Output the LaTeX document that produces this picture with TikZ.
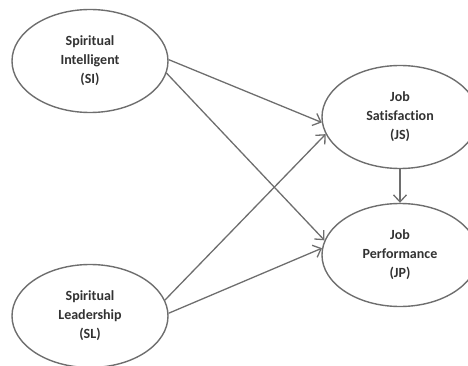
\documentclass[tikz,border=0pt]{standalone}
\usepackage{fontspec}
\setmainfont{Carlito}[Ligatures=NoCommon]
\usetikzlibrary{shapes.geometric,arrows.meta}
\definecolor{linegray}{RGB}{110,110,110}
\definecolor{textgray}{RGB}{50,50,50}
\tikzset{
  construct/.style={draw=linegray, line width=1.4pt, ellipse, minimum width=156pt,
    minimum height=103pt, inner sep=0, align=center, text=textgray,
    font=\fontsize{14}{19}\selectfont\bfseries},
  path/.style={draw=linegray, line width=1.3pt, -{Straight Barb[length=7pt,width=13pt]}}
}
\begin{document}
\begin{tikzpicture}[x=1pt, y=-1pt]
      \useasboundingbox (0,0) rectangle (468,366);
      \begin{scope}
        \clip (0,0) rectangle (468,366);
        \node [construct] (si) at (90, 61) {Spiritual\\Intelligent\\(SI)};
        \node [construct] (sl) at (90, 316) {Spiritual\\Leadership\\(SL)};
        \node [construct] (js) at (400, 117) {Job\\Satisfaction\\(JS)};
        \node [construct] (jp) at (400, 255) {Job\\Performance\\(JP)};
      \end{scope}
      \draw [path] (si.1) -- (js.184);
      \draw [path] (si.-9) -- (jp.169);
      \draw [path] (sl.12) -- (js.193);
      \draw [path] (sl.2) -- (jp.175);
      \draw [path] (js.south) -- (jp.north);
    \end{tikzpicture}
\end{document}
